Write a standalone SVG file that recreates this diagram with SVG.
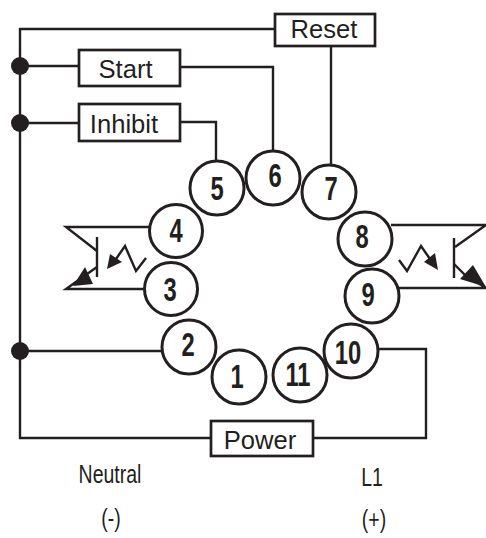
<svg xmlns="http://www.w3.org/2000/svg" width="486" height="538" viewBox="0 0 486 538">
<style>
.w{fill:none;stroke:#231f20;stroke-width:2.4}
.n{fill:#fff;stroke:#231f20;stroke-width:3}
.b{fill:#fff;stroke:#231f20;stroke-width:2.7}
.d{fill:#231f20}
.t{font-family:"Liberation Sans",Arial,sans-serif;font-size:25.6px;fill:#231f20;text-anchor:middle}
.p{font-family:"Liberation Sans",Arial,sans-serif;font-weight:bold;font-size:33px;fill:#231f20;text-anchor:middle}
.l{font-family:"Liberation Sans",Arial,sans-serif;font-size:26px;fill:#231f20;text-anchor:middle}
</style>
<g id="connectors">
<path class="w" d="M275 29H20V438H211"/>
<path class="w" d="M20 66H79"/>
<path class="w" d="M20 123H79"/>
<path class="w" d="M20 351H165"/>
<path class="w" d="M181 67H273V152"/>
<path class="w" d="M180 122H216V165"/>
<path class="w" d="M331 46V168"/>
<path class="w" d="M375 349H426V438H313"/>
<g id="opto-left">
<path class="w" d="M152 227H66L97 251"/>
<path class="w" d="M97 237V277"/>
<path class="w" d="M97 267L80 279"/>
<path class="w" d="M146 289H66L80 279"/>
<path class="d" d="M73 286L85 267L93 284Z"/>
<path class="w" d="M146 258L136 271L125 246L116 259"/>
<path class="d" d="M107 269L110 254L122 262Z"/>
</g>
<g id="opto-right">
<path class="w" d="M391 225H486L455 247"/>
<path class="w" d="M454 238V278"/>
<path class="w" d="M454 264L470 280"/>
<path class="w" d="M395 288H486L470 278"/>
<path class="d" d="M486 287L460 279L473 265Z"/>
<path class="w" d="M399 260L407 271L421 246L430 259"/>
<path class="d" d="M438 270L424 262L435 253Z"/>
</g>
</g>
<g id="dots">
<circle class="d" cx="20" cy="66" r="9"/>
<circle class="d" cx="20" cy="123" r="9"/>
<circle class="d" cx="20" cy="351" r="9"/>
</g>
<g id="reset"><rect class="b" x="275" y="14" width="100" height="32"/><text class="t" x="324" y="38">Reset</text></g>
<g id="start"><rect class="b" x="79" y="50" width="101" height="36"/><text class="t" x="125.5" y="78">Start</text></g>
<g id="inhibit"><rect class="b" x="79" y="104" width="101" height="37"/><text class="t" x="124" y="133">Inhibit</text></g>
<g id="power"><rect class="b" x="211" y="421" width="102" height="35"/><text class="t" x="260" y="449">Power</text></g>
<g id="n5"><circle class="n" cx="217" cy="188" r="27"/><text class="p" transform="translate(217 200) scale(.72 1)">5</text></g>
<g id="n6"><circle class="n" cx="273" cy="178" r="27"/><text class="p" transform="translate(275 187) scale(.72 1)">6</text></g>
<g id="n7"><circle class="n" cx="329" cy="192" r="27"/><text class="p" transform="translate(331 200) scale(.72 1)">7</text></g>
<g id="n4"><circle class="n" cx="176" cy="231" r="26.5"/><text class="p" transform="translate(176 242) scale(.72 1)">4</text></g>
<g id="n3"><circle class="n" cx="171" cy="289" r="26.5"/><text class="p" transform="translate(170 301) scale(.72 1)">3</text></g>
<g id="n8"><circle class="n" cx="365" cy="239" r="27"/><text class="p" transform="translate(362 248) scale(.72 1)">8</text></g>
<g id="n9"><circle class="n" cx="372" cy="296" r="27"/><text class="p" transform="translate(368 306) scale(.72 1)">9</text></g>
<g id="n2"><circle class="n" cx="189" cy="347" r="27"/><text class="p" transform="translate(188 356) scale(.72 1)">2</text></g>
<g id="n1"><circle class="n" cx="239" cy="377" r="27"/><text class="p" transform="translate(237 388) scale(.72 1)">1</text></g>
<g id="n11"><circle class="n" cx="300" cy="375" r="27"/><text class="p" transform="translate(298 386) scale(.72 1)">11</text></g>
<g id="n10"><circle class="n" cx="351" cy="351" r="27"/><text class="p" transform="translate(348 364) scale(.72 1)">10</text></g>
<g id="labels">
<text class="l" transform="translate(110 483) scale(.75 1)">Neutral</text>
<text class="l" transform="translate(111 527) scale(.75 1)">(-)</text>
<text class="l" transform="translate(372 486) scale(.75 1)">L1</text>
<text class="l" transform="translate(374 528) scale(.75 1)">(+)</text>
</g>
</svg>
